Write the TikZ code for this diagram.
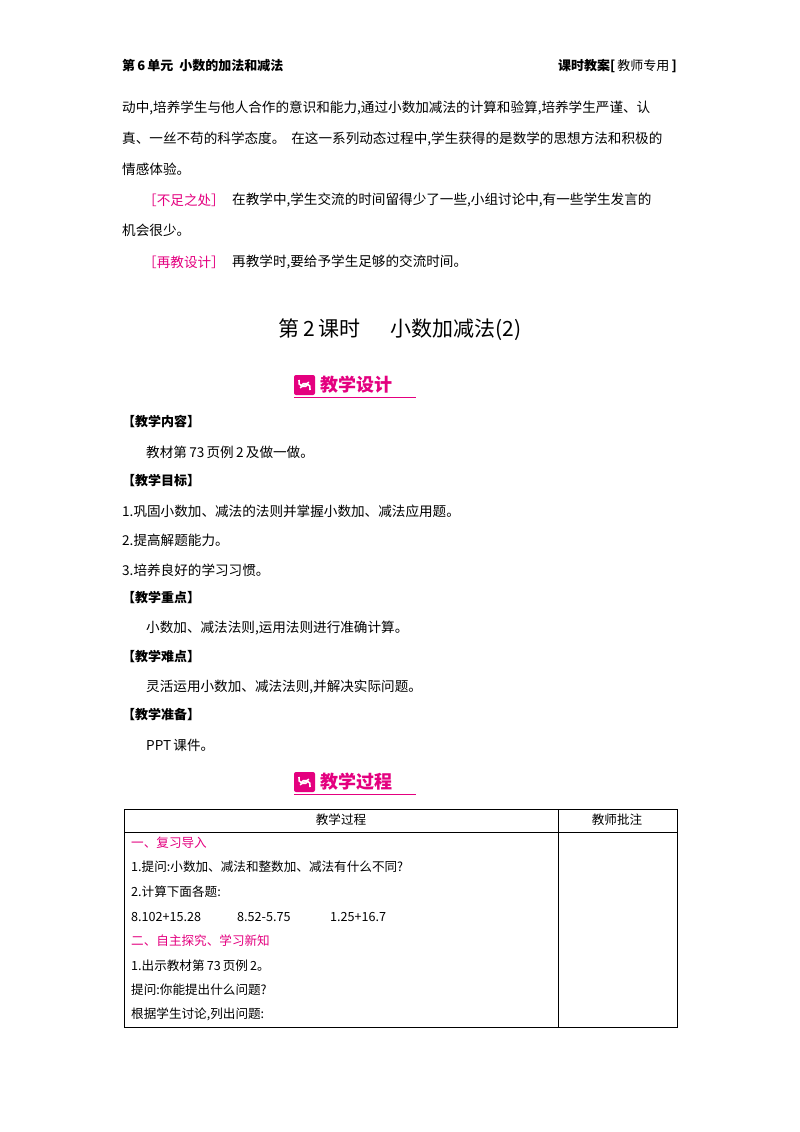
\documentclass[tikz,border=0pt]{standalone}
\usepackage{fontspec}
\setmainfont{Liberation Serif}
\newfontfamily\cjk{Noto Sans CJK SC}
\definecolor{mag}{HTML}{E4007F}
\begin{document}
\begin{tikzpicture}[x=1pt,y=-1pt,
  body/.style={anchor=west,inner sep=0pt,font=\cjk\fontsize{13.6}{14}\selectfont},
  tbl/.style={anchor=west,inner sep=0pt,font=\cjk\fontsize{12.6}{13}\selectfont},
  hd/.style={anchor=west,inner sep=0pt,font=\cjk\bfseries\fontsize{13}{14}\selectfont},
  banner/.style={anchor=west,inner sep=0pt,text=mag,font=\cjk\bfseries\fontsize{18}{19}\selectfont},
  rule/.style={draw=black,line width=0.8pt}]
\useasboundingbox (0,0) rectangle (800,1132);
\fill[white] (0,0) rectangle (800,1132);
\node[hd] (h1) at (122,66) {第\,6\,单元\ \ 小数的加法和减法};
\node[hd,anchor=east] (h2) at (677,66) {课时教案[{\mdseries\,教师专用\,}]};
\node[body] (l1) at (122,108) {动中,培养学生与他人合作的意识和能力,通过小数加减法的计算和验算,培养学生严谨、认};
\node[body] (l2) at (122,139) {真、一丝不苟的科学态度。\hspace{6pt}在这一系列动态过程中,学生获得的是数学的思想方法和积极的};
\node[body] (l3) at (122,169) {情感体验。};
\node[body,text=mag] (b1) at (143,200) {［不足之处］};
\node[body] (l4) at (232,200) {在教学中,学生交流的时间留得少了一些,小组讨论中,有一些学生发言的};
\node[body] (l5) at (122,230) {机会很少。};
\node[body,text=mag] (b2) at (143,262) {［再教设计］};
\node[body] (l6) at (232,262) {再教学时,要给予学生足够的交流时间。};
\node[inner sep=0pt,font=\cjk\fontsize{21}{22}\selectfont] (title) at (400,330) {第\,2\,课时\quad\ \ 小数加减法(2)};
\foreach \y/\t/\n in {385/教学设计/ba, 782/教学过程/bb}{
  \fill[mag,rounded corners=2pt] (294,\y-10) rectangle (315,\y+10);
  \draw[white,line width=1.6pt] (299,\y-5) arc (200:20:5) (310,\y+5) arc (20:-160:5);
  \draw[white,line width=1.2pt] (300,\y+3) -- (309,\y-3);
  \node[banner] (\n) at (320,\y) {\t};
  \draw[mag,line width=0.6pt] (294,\y+12) -- (416,\y+12);
}
\node[hd] (s1) at (122,421) {【教学内容】};
\node[body] (t1) at (146,452) {教材第\,73\,页例\,2\,及做一做。};
\node[hd] (s2) at (122,481) {【教学目标】};
\node[body] (t2) at (122,511) {1.巩固小数加、减法的法则并掌握小数加、减法应用题。};
\node[body] (t3) at (122,540) {2.提高解题能力。};
\node[body] (t4) at (122,570) {3.培养良好的学习习惯。};
\node[hd] (s3) at (122,598) {【教学重点】};
\node[body] (t5) at (146,628) {小数加、减法法则,运用法则进行准确计算。};
\node[hd] (s4) at (122,657) {【教学难点】};
\node[body] (t6) at (146,687) {灵活运用小数加、减法法则,并解决实际问题。};
\node[hd] (s5) at (122,715) {【教学准备】};
\node[body] (t7) at (146,745) {PPT\,课件。};
\draw[rule] (124,809) rectangle (677,1027);
\draw[rule] (558,809) -- (558,1027);
\draw[rule] (124,832) -- (677,832);
\node[tbl,anchor=center] (c1) at (341,820) {教学过程};
\node[tbl,anchor=center] (c2) at (617,820) {教师批注};
\node[tbl,text=mag] (r1) at (131,843) {一、复习导入};
\node[tbl] (r2) at (131,867) {1.提问:小数加、减法和整数加、减法有什么不同?};
\node[tbl] (r3) at (131,892) {2.计算下面各题:};
\node[tbl] (r4a) at (131,917) {8.102+15.28};
\node[tbl] (r4b) at (237,917) {8.52-5.75};
\node[tbl] (r4c) at (330,917) {1.25+16.7};
\node[tbl,text=mag] (r5) at (131,941) {二、自主探究、学习新知};
\node[tbl] (r6) at (131,966) {1.出示教材第\,73\,页例\,2。};
\node[tbl] (r7) at (131,990) {提问:你能提出什么问题?};
\node[tbl] (r8) at (131,1014) {根据学生讨论,列出问题:};
\end{tikzpicture}
\end{document}
